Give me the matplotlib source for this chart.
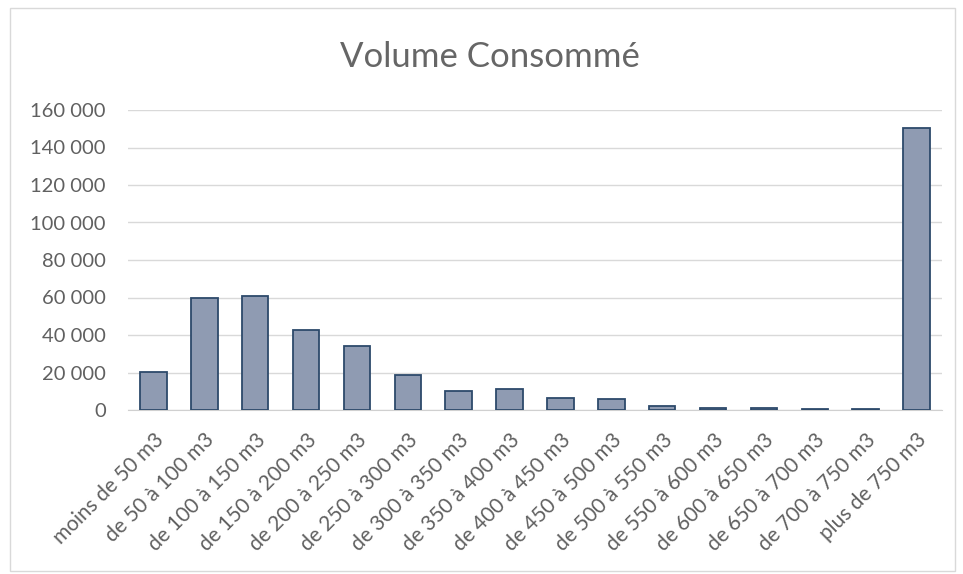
import matplotlib
matplotlib.use("Agg")
import matplotlib.pyplot as plt
from matplotlib.patches import Rectangle
from matplotlib.ticker import FuncFormatter

categories = ["moins de 50 m3", "de 50 à 100 m3", "de 100 à 150 m3", "de 150 à 200 m3",
              "de 200 à 250 m3", "de 250 à 300 m3", "de 300 à 350 m3", "de 350 à 400 m3",
              "de 400 à 450 m3", "de 450 à 500 m3", "de 500 à 550 m3", "de 550 à 600 m3",
              "de 600 à 650 m3", "de 650 à 700 m3", "de 700 à 750 m3", "plus de 750 m3"]
values = [20500, 60000, 61000, 42700, 34200, 18800, 10000, 11000,
          6500, 6000, 2000, 900, 900, 500, 500, 150500]
yticks = [0, 20000, 40000, 60000, 80000, 100000, 120000, 140000, 160000]

plt.rcParams['font.family'] = ['Lato', 'DejaVu Sans']

fig = plt.figure(figsize=(9.63, 5.74), dpi=100)
ax = fig.add_axes([128/963, 1-410/574, (942-128)/963, 300/574])

x = list(range(len(categories)))
ax.bar(x, values, width=0.52, color="#8f9bb2", edgecolor="#2d4a6b", linewidth=1.3, zorder=3)

ax.set_ylim(0, 160000)
ax.set_xlim(-0.5, len(categories)-0.5)
ax.set_yticks(yticks)
ax.yaxis.set_major_formatter(FuncFormatter(lambda v, p: f"{int(v):,}".replace(",", " ")))
ax.grid(axis="y", color="#d9d9d9", linewidth=1, zorder=0)
for s in ["top", "right", "left"]:
    ax.spines[s].set_visible(False)
ax.spines["bottom"].set_color("#d0d0d0")
ax.tick_params(axis="y", length=0, labelsize=14.5, colors="#606060", pad=16)
ax.tick_params(axis="x", length=0, labelsize=15, colors="#606060", pad=14)
ax.set_xticks(x)
ax.set_xticklabels(categories, rotation=45, ha="right", rotation_mode="anchor")

fig.text(490/963, 1-57/574, "Volume Consommé", ha="center", va="center",
         fontsize=25, color="#666666")

fig.patches.append(Rectangle((10/963, 0.005), 945/963, 1-8/574-0.005, transform=fig.transFigure,
                             fill=False, edgecolor="#d9d9d9", linewidth=1))

fig.savefig("out.png", dpi=100)
